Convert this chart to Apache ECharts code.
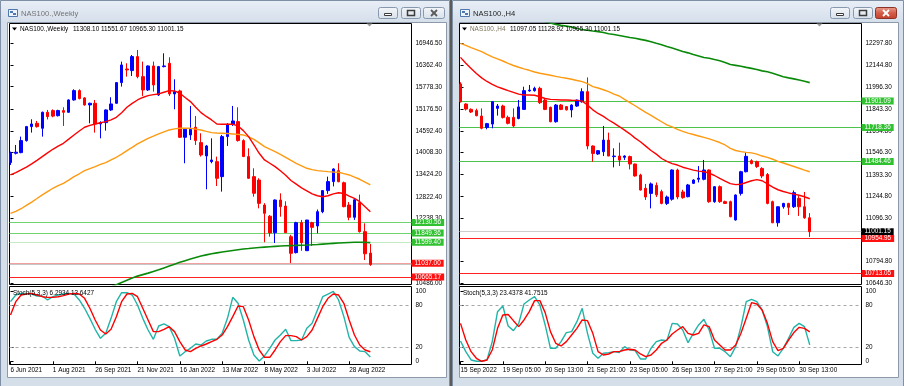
<!DOCTYPE html>
<html><head><meta charset="utf-8">
<script src="https://cdn.jsdelivr.net/npm/echarts@6/dist/echarts.min.js"></script>
<style>html,body{margin:0;padding:0;background:#d5dfea;overflow:hidden}#c{width:904px;height:386px}</style>
</head><body><div id="c"></div><script>
// ---------- DATA ----------
const weeklyTickLabels = ['6 Jun 2021','1 Aug 2021','26 Sep 2021','21 Nov 2021','16 Jan 2022','13 Mar 2022','8 May 2022','3 Jul 2022','28 Aug 2022'];
const h4TickLabels = ['15 Sep 2022','19 Sep 05:00','20 Sep 13:00','21 Sep 21:00','23 Sep 05:00','26 Sep 13:00','27 Sep 21:00','29 Sep 05:00','30 Sep 13:00'];
const weeklyPriceTicks = [16946.50,16362.40,15778.30,15176.50,14592.40,14008.30,13424.20,12822.40,12238.30,10486.00];
const h4PriceTicks = [12297.80,12144.80,11996.30,11843.30,11694.80,11546.30,11393.30,11244.80,11096.30,10794.80,10646.30];
const stochTicks = [100,80,20,0];
const stochLevels = [80,20];

const weeklyOpen = [13740,13990,14008,14331,14707,14796,14662,15092,15137,15000,
 15137,15092,15423,15674,15477,15289,15334,14778,14814,15155,
 15334,15889,16256,16212,16588,16050,15692,16337,15558,16319,
 16409,15585,15665,14420,14483,14689,14277,13919,13766,13766,
 13363,14438,14769,14841,14331,13901,13363,13272,12600,12300,
 11857,12735,12573,11749,11320,12126,11373,12126,12036,12421,
 12987,13229,13524,13200,12600,12270,12663,11884,11308.10];
const weeklyHigh = [14035,14214,14438,14725,14904,14859,15110,15155,15170,15160,
 15226,15440,15710,15710,15500,15350,15423,14850,15170,15495,
 15900,16453,16409,16632,16767,16453,16350,16453,16337,16677,
 16570,15979,15700,14650,15262,14993,14528,14214,14393,13901,
 14483,14800,15262,15226,14366,14125,13587,13320,12650,12330,
 12750,12914,12700,11800,12150,12200,12200,12150,12480,13000,
 13363,13587,13722,13229,12680,12760,12880,12108,11551.67];
const weeklyLow = [13677,13960,13990,14304,14546,14680,14438,14900,14958,14980,
 14725,15080,15405,15440,15270,14796,14546,14393,14599,15130,
 15320,15782,16050,16068,16005,15531,15665,15647,15531,16300,
 15531,15173,14400,13722,14349,14214,13901,13023,13722,13112,
 12960,14187,14725,14304,13890,13300,12824,12511,11600,11750,
 11580,12287,11850,11040,11300,11370,11370,11500,11840,12380,
 12900,13100,13211,12540,12190,12200,11860,11122,10965.30];
const weeklyClose = [13990,14020,14331,14707,14778,14707,15092,14975,14990,15140,
 15092,15423,15674,15459,15289,15334,14778,14814,15155,15316,
 15889,16364,16230,16588,16050,15692,16337,15826,16319,16337,
 15585,15647,14420,14635,14635,14331,13945,14187,13811,13318,
 14438,14769,14859,14331,13901,13318,12916,12645,12377,11850,
 12735,12555,11857,11302,12126,11588,12197,12000,12421,12987,
 13229,13569,13227,12555,12270,12740,11884,11290,11001.15];
const weeklyMaFast = [13408,13470,13542,13620,13704,13800,13901,14000,14098,14180,
 14259,14370,14483,14590,14689,14740,14778,14810,14841,14890,
 14958,15080,15226,15330,15423,15490,15540,15565,15585,15630,
 15674,15665,15603,15490,15379,15230,15083,14980,14886,14778,
 14769,14769,14769,14725,14599,14438,14214,13990,13811,13722,
 13632,13520,13400,13260,13160,13060,12980,12900,12850,12824,
 12850,12900,12930,12910,12842,12779,12690,12555,12421];
const weeklyMaMid = [12377,12430,12500,12590,12680,12775,12871,12960,13050,13120,
 13184,13270,13363,13440,13524,13580,13632,13690,13740,13810,
 13883,13970,14062,14150,14241,14320,14393,14450,14510,14565,
 14617,14645,14662,14665,14662,14640,14617,14580,14546,14535,
 14528,14520,14510,14498,14483,14430,14366,14270,14170,14100,
 14035,13960,13883,13800,13722,13650,13587,13550,13524,13510,
 13497,13488,13480,13445,13408,13350,13292,13215,13140];
const weeklyMaSlow = [null,null,null,null,null,null,null,null,null,null,
 null,null,null,null,null,null,null,10290,10330,10400,
 10460,10520,10580,10640,10690,10730,10770,10815,10860,10910,
 10960,11010,11060,11105,11150,11190,11230,11260,11290,11315,
 11340,11360,11380,11400,11420,11432,11445,11458,11470,11480,
 11490,11498,11505,11510,11515,11520,11525,11532,11540,11550,
 11560,11570,11580,11588,11595,11598,11600,11596,11590];
const weeklyStochMain = [84.8,94.3,96.7,96.2,95.7,92.9,92.9,87.2,91.9,94.3,
 95.7,96.7,95.7,87.2,75.4,61.1,45.5,32.7,39.8,61.1,
 84.8,97.6,97.6,94.3,80.1,61.1,44.5,31.3,50.2,53.1,
 49.3,32.7,7.6,13.7,18.5,24.6,23.2,28.9,31.3,31.3,
 39.8,61.1,91.0,82.5,58.8,30.3,9.0,0.5,7.6,18.5,
 30.3,37.4,45.5,29.4,29.4,30.3,46.9,54.0,73.0,91.9,
 95.7,99.5,87.2,63.5,34.1,20.9,14.7,13.7,6.2934];
const weeklyStochSignal = [65.9,84.8,94.3,95.7,96.7,94.3,91.9,91.0,91.0,91.9,
 93.4,95.7,96.7,95.7,89.6,75.4,58.8,44.5,38.9,45.5,
 63.5,84.8,95.7,96.7,91.9,75.4,58.8,42.2,42.2,45.5,
 49.3,42.2,28.0,16.1,13.7,18.5,21.8,24.6,28.0,31.3,
 37.4,49.3,63.5,78.7,77.7,58.8,35.1,16.1,5.7,5.7,
 16.1,28.0,36.5,36.5,35.1,30.3,35.1,44.5,61.1,77.7,
 89.6,95.7,94.3,82.5,58.8,37.4,23.2,16.1,13.6427];
const weeklyLevels = [12130.56,11849.36,11599.40,11037.00,10665.17];

const h4Open = [12018,11880,11843,11835,11797,11719,11742,11850,11866,11788,
 11788,11780,11843,11970,11972,11988,11907,11857,11758,11873,
 11862,11839,11866,11896,11965,11591,11536,11552,11632,11518,
 11522,11513,11518,11467,11391,11300,11265,11320,11277,11196,
 11225,11426,11275,11242,11334,11362,11362,11426,11208,11311,
 11208,11208,11082,11265,11414,11490,11483,11437,11395,11208,
 11063,11173,11196,11173,11231,11173,11097.05];
const h4High = [12030,11885,11850,11848,11850,11750,11900,11880,11875,11800,
 11850,11908,11999,12011,11999,11999,11915,11862,11880,11880,
 11866,11878,11910,11988,12063,11595,11562,11729,11683,11575,
 11614,11527,11525,11470,11400,11330,11340,11340,11290,11250,
 11430,11435,11290,11330,11362,11453,11495,11430,11315,11320,
 11215,11215,11258,11420,11545,11500,11490,11445,11405,11215,
 11175,11200,11200,11285,11250,11275,11128.92];
const h4Low = [11890,11835,11818,11795,11706,11706,11713,11800,11780,11740,
 11720,11775,11839,11965,11965,11880,11838,11755,11752,11838,
 11835,11788,11860,11889,11568,11483,11530,11522,11522,11444,
 11453,11495,11430,11380,11285,11220,11162,11240,11190,11185,
 11215,11225,11228,11238,11330,11340,11355,11200,11200,11200,
 11192,11100,11078,11250,11410,11465,11440,11370,11190,11060,
 11036,11160,11116,11165,11110,11090,10965.30];
const h4Close = [11896,11845,11825,11800,11713,11745,11896,11866,11788,11747,
 11729,11860,11972,11976,11988,11889,11843,11758,11873,11843,
 11840,11873,11907,11965,11591,11540,11559,11632,11522,11522,
 11494,11522,11467,11385,11288,11240,11330,11255,11196,11240,
 11426,11240,11236,11323,11357,11370,11426,11208,11311,11208,
 11196,11105,11254,11414,11520,11470,11450,11385,11196,11063,
 11173,11196,11169,11270,11173,11097,11001.15];
const h4MaFast = [12201,12160,12125,12090,12060,12035,12015,11998,11985,11972,
 11960,11948,11942,11942,11940,11930,11918,11912,11910,11908,
 11908,11906,11905,11900,11873,11840,11815,11795,11770,11748,
 11725,11700,11675,11645,11620,11590,11560,11535,11505,11485,
 11470,11460,11445,11435,11425,11418,11414,11405,11388,11368,
 11350,11332,11325,11328,11340,11352,11360,11352,11330,11308,
 11290,11278,11268,11260,11252,11242,11228];
const h4MaMid = [12297,12283,12268,12254,12240,12222,12205,12190,12176,12160,
 12145,12133,12122,12112,12100,12092,12085,12078,12070,12063,
 12057,12050,12042,12034,12020,12000,11990,11978,11965,11948,
 11935,11912,11890,11868,11845,11822,11802,11780,11758,11736,
 11722,11705,11692,11680,11670,11660,11650,11640,11628,11615,
 11598,11575,11560,11552,11547,11544,11535,11522,11513,11500,
 11485,11474,11462,11450,11438,11425,11414];
const h4MaSlow = [null,null,null,null,null,null,null,null,null,null,
 null,null,null,null,null,12455,12447,12438,12428,12421,
 12416,12410,12400,12393,12388,12382,12378,12372,12364,12358,
 12352,12345,12338,12332,12325,12318,12309,12298,12288,12276,
 12265,12254,12242,12232,12220,12210,12200,12195,12186,12178,
 12166,12152,12146,12140,12132,12125,12117,12108,12102,12092,
 12080,12068,12060,12053,12045,12036,12027];
const h4StochMain = [28.9,13.7,1.9,0.0,0.0,1.9,28.0,70.6,78.7,50.2,
 43.6,54.0,81.5,87.2,91.9,80.1,51.7,18.5,18.5,28.0,
 40.8,42.2,56.4,75.4,39.8,11.4,4.3,11.4,12.3,13.7,
 12.3,20.9,16.1,15.2,3.3,3.3,18.5,28.0,30.3,29.4,
 54.0,53.1,44.5,26.5,39.8,51.7,59.7,44.5,18.5,18.5,
 13.7,6.6,20.9,49.3,84.8,88.2,84.8,73.0,49.3,13.7,
 7.6,18.5,32.7,48.3,54.0,49.3,23.4378];
const h4StochSignal = [54.0,30.3,13.7,4.3,0.0,1.9,16.1,46.9,65.9,66.5,
 57.8,49.3,58.8,70.6,86.3,86.3,69.2,42.2,25.6,21.8,
 28.0,37.4,46.9,58.8,57.8,39.8,13.7,9.0,10.4,13.7,
 13.7,16.1,17.1,16.1,10.4,6.6,9.0,16.1,25.6,30.3,
 38.9,44.5,49.3,39.8,37.4,39.8,51.7,49.3,30.3,23.2,
 16.1,16.1,23.2,39.8,61.1,83.4,81.5,73.0,54.0,28.0,
 15.2,18.5,30.3,40.8,48.3,46.9,41.7515];
const h4Levels = [11901.09,11718.36,11484.46,10954.95,10713.05];

// ---------- HELPERS ----------
const FONT = '"Liberation Sans", Arial, sans-serif';
const SMALL = {fontFamily: FONT, fontSize: 6.4, color: '#000'};
const candles = (o,h,l,c) => o.map((v,i) => [i, v, c[i], l[i], h[i]]);
const pts = a => a.map((v,i) => [i, v]);
const last = a => a[a.length - 1];

function xAx(grid, labels) {
  const cv = labels ? labels.map((_, k) => k * 8) : [];
  return {type:'value', gridIndex:grid, min:-0.19, max:75.78, show: !!labels,
    axisLine:{show:false}, splitLine:{show:false},
    axisTick: labels ? {show:true, customValues:cv, length:3, lineStyle:{color:'#000'}} : {show:false},
    axisLabel: labels ? {show:true, customValues:cv, formatter: v => labels[Math.round(v/8)], align:'left', margin:3, ...SMALL} : {show:false}};
}
function yAx(grid, min, max, ticks, dec) {
  return {type:'value', gridIndex:grid, position:'right', min, max,
    axisLine:{show:false}, splitLine:{show:false},
    axisTick:{show:true, customValues:ticks, length:3, lineStyle:{color:'#000'}},
    axisLabel:{show:true, customValues:ticks, formatter: v => v.toFixed(dec), margin:4, ...SMALL}};
}
function lvl(v, lineColor, box, txt) {
  return {yAxis: v, lineStyle:{color: lineColor, width:1, type:'solid'},
    label: box ? {show:true, position:'end', distance:0, formatter: () => v.toFixed(2),
      ...SMALL, color: txt || '#fff', backgroundColor: box, padding:[1,3,0,3]} : {show:false}};
}
function candleSeries(xi, o, h, l, c, levelData) {
  return {type:'candlestick', xAxisIndex:xi, yAxisIndex:xi, data: candles(o,h,l,c), barWidth:3,
    itemStyle:{color:'#0000ff', color0:'#ff0000', borderColor:'#0000ff', borderColor0:'#ff0000', borderWidth:1},
    silent:true,
    markLine:{z:1, silent:true, symbol:['none','none'], animation:false, data: levelData}};
}
function lineSeries(xi, arr, color, width) {
  return {type:'line', xAxisIndex:xi, yAxisIndex:xi, data: pts(arr), showSymbol:false, symbol:'none',
    silent:true, lineStyle:{color, width}, connectNulls:false};
}
function stochSeries(xi, arr, color, withLevels) {
  const s = lineSeries(xi, arr, color, 1.4);
  if (withLevels) s.markLine = {z:1, silent:true, symbol:['none','none'], animation:false,
    data: stochLevels.map(v => ({yAxis:v, lineStyle:{color:'#a8a8a8', type:[3,3], width:1}, label:{show:false}}))};
  return s;
}

// ---------- WINDOW CHROME ----------
const G = echarts.graphic;
const chrome = [];
function txt(x, y, text, color, size, extra) {
  chrome.push({type:'text', x, y, z:50, silent:true, style:Object.assign({text, fill:color, fontFamily:FONT, fontSize:size,
    align:'left', verticalAlign:'middle', textAlign:'left', textVerticalAlign:'middle'}, extra||{})});
}
function button(x, kind, active) {
  const red = active && kind === 'close';
  chrome.push({type:'rect', z:-1, silent:true, shape:{x:x+0.5, y:7.5, width: kind==='close'?21:19, height:11, r:2},
    style:{fill: red ? new G.LinearGradient(0,0,0,1,[{offset:0,color:'#e9a192'},{offset:0.5,color:'#d45d48'},{offset:1,color:'#c2402c'}])
                     : new G.LinearGradient(0,0,0,1,[{offset:0,color:'#f4f7fa'},{offset:1,color:'#d6dfea'}]),
           stroke: red ? '#8c3226' : '#8898ad', lineWidth:1}});
  const cx = x + (kind==='close'?11:10);
  if (kind === 'min') chrome.push({type:'rect', z:-1, silent:true, shape:{x:cx-3.5, y:13.5, width:7, height:2}, style:{fill:'#fff', stroke:'#3c3c3c', lineWidth:1}});
  if (kind === 'max') chrome.push({type:'rect', z:-1, silent:true, shape:{x:cx-3.5, y:10.5, width:7, height:5}, style:{fill:'none', stroke:'#3c3c3c', lineWidth:1.5}});
  if (kind === 'close') {
    const col = red ? '#fff' : '#5a5a5a';
    chrome.push({type:'line', z:-1, silent:true, shape:{x1:cx-3, y1:10, x2:cx+3, y2:16}, style:{stroke:col, lineWidth:1.8}});
    chrome.push({type:'line', z:-1, silent:true, shape:{x1:cx+3, y1:10, x2:cx-3, y2:16}, style:{stroke:col, lineWidth:1.8}});
  }
}
function windowFrame(x0, w, title, active, plotLeft, header, headerNameColor, stochHeader) {
  chrome.push({type:'rect', z:-3, silent:true, shape:{x:x0+0.5, y:0.5, width:w-1, height:395},
    style:{fill:'#d5dfea', stroke:'#7f90a6', lineWidth:1}});
  chrome.push({type:'rect', z:-3, silent:true, shape:{x:x0+1, y:1, width:w-2, height:21},
    style:{fill:new G.LinearGradient(0,0,0,1,[{offset:0,color:'#e8eef6'},{offset:1,color:'#d5dfeb'}])}});
  chrome.push({type:'rect', z:-2, silent:true, shape:{x:x0+7.5, y:22.5, width:439, height:355},
    style:{fill:'#ffffff', stroke:'#8e9aaa', lineWidth:1}});
  // icon
  chrome.push({type:'rect', z:-1, silent:true, shape:{x:x0+8.5, y:9.5, width:9, height:7}, style:{fill:'#eef4fb', stroke:'#4f78ae', lineWidth:1}});
  chrome.push({type:'rect', z:-1, silent:true, shape:{x:x0+10, y:11, width:3, height:2}, style:{fill:'#4f78ae'}});
  chrome.push({type:'rect', z:-1, silent:true, shape:{x:x0+13, y:13, width:3, height:2}, style:{fill:'#4f78ae'}});
  txt(x0+21, 13.5, title, active ? '#1e1e1e' : '#747474', 7.6);
  button(x0+378, 'min', active);
  button(x0+401, 'max', active);
  button(x0+423, 'close', active);
  // header line inside chart
  chrome.push({type:'polygon', z:40, silent:true, shape:{points:[[plotLeft+2.5,27.5],[plotLeft+7.5,27.5],[plotLeft+5,30.5]]}, style:{fill:'#000'}});
  txt(plotLeft+10.5, 29.3, header.name, headerNameColor, 6.4);
  txt(plotLeft+10.5 + header.nameWidth, 29.3, header.values, '#000', 6.4);
  txt(plotLeft+3.5, 293.5, stochHeader, '#000', 6.4);
  // chart shift marker
  chrome.push({type:'polygon', z:40, silent:true, shape:{points:[[plotLeft+357,23.5],[plotLeft+363,23.5],[plotLeft+360,26.5]]}, style:{fill:'#9a9a9a'}});
}
const fmt = v => v.toFixed(2);
windowFrame(0, 450, 'NAS100.,Weekly', false, 9.5,
  {name:'NAS100.,Weekly', nameWidth:53, values:[last(weeklyOpen),last(weeklyHigh),last(weeklyLow),last(weeklyClose)].map(fmt).join(' ')},
  '#000', 'Stoch(5,3,3) ' + last(weeklyStochMain).toFixed(4) + ' ' + last(weeklyStochSignal).toFixed(4));
windowFrame(452, 452, 'NAS100.,H4', true, 459.5,
  {name:'NAS100.,H4', nameWidth:40, values:[last(h4Open),last(h4High),last(h4Low),last(h4Close)].map(fmt).join(' ')},
  '#7d7259', 'Stoch(5,3,3) ' + last(h4StochMain).toFixed(4) + ' ' + last(h4StochSignal).toFixed(4));
chrome.push({type:'rect', z:30, silent:true, shape:{x:450, y:0, width:2, height:386}, style:{fill:'#5b5b5b'}});

// ---------- CHART ----------
const chart = echarts.init(document.getElementById('c'), null, {renderer:'canvas'});
const gridStyle = {show:true, borderColor:'#000', borderWidth:1, backgroundColor:'transparent', containLabel:false};
const weeklyLevelData = [
  lvl(weeklyLevels[0], '#6fd46f', '#2fc12f'),
  lvl(weeklyLevels[1], '#6fd46f', '#2fc12f'),
  lvl(weeklyLevels[2], '#c4ecc4', '#2fc12f'),
  lvl(weeklyLevels[3], '#f2a0a0', '#ff1010'),
  lvl(last(weeklyClose), '#c6c6c6', null),
  lvl(weeklyLevels[4], '#ff2020', '#ff1010')
];
const h4LevelData = [
  lvl(h4Levels[0], '#4cc44c', '#2fc12f'),
  lvl(h4Levels[1], '#4cc44c', '#2fc12f'),
  lvl(h4Levels[2], '#4cc44c', '#2fc12f'),
  lvl(last(h4Close), '#cdcdcd', '#000000'),
  lvl(h4Levels[3], '#ff2020', '#ff1010'),
  lvl(h4Levels[4], '#ff2020', '#ff1010')
];
chart.setOption({
  animation:false,
  backgroundColor:'#d5dfea',
  graphic:{elements:chrome},
  grid:[
    Object.assign({left:9.5, top:23.5, width:402, height:261}, gridStyle),
    Object.assign({left:9.5, top:286.5, width:402, height:78}, gridStyle),
    Object.assign({left:459.5, top:23.5, width:402, height:261}, gridStyle),
    Object.assign({left:459.5, top:286.5, width:402, height:78}, gridStyle)
  ],
  xAxis:[ xAx(0,null), xAx(1,weeklyTickLabels), xAx(2,null), xAx(3,h4TickLabels) ],
  yAxis:[
    yAx(0, 10464.5, 17477.6, weeklyPriceTicks, 2),
    yAx(1, -4.55, 106.4, stochTicks, 0),
    yAx(2, 10638.0, 12434.0, h4PriceTicks, 2),
    yAx(3, -4.55, 106.4, stochTicks, 0)
  ],
  series:[
    candleSeries(0, weeklyOpen, weeklyHigh, weeklyLow, weeklyClose, weeklyLevelData),
    lineSeries(0, weeklyMaSlow, '#0a8a0a', 1.6),
    lineSeries(0, weeklyMaMid, '#ff9a10', 1.4),
    lineSeries(0, weeklyMaFast, '#ff0000', 1.4),
    stochSeries(1, weeklyStochMain, '#22b4a8', true),
    stochSeries(1, weeklyStochSignal, '#ff0000', false),
    candleSeries(2, h4Open, h4High, h4Low, h4Close, h4LevelData),
    lineSeries(2, h4MaSlow, '#0a8a0a', 1.6),
    lineSeries(2, h4MaMid, '#ff9a10', 1.4),
    lineSeries(2, h4MaFast, '#ff0000', 1.4),
    stochSeries(3, h4StochMain, '#22b4a8', true),
    stochSeries(3, h4StochSignal, '#ff0000', false)
  ]
});
</script></body></html>
